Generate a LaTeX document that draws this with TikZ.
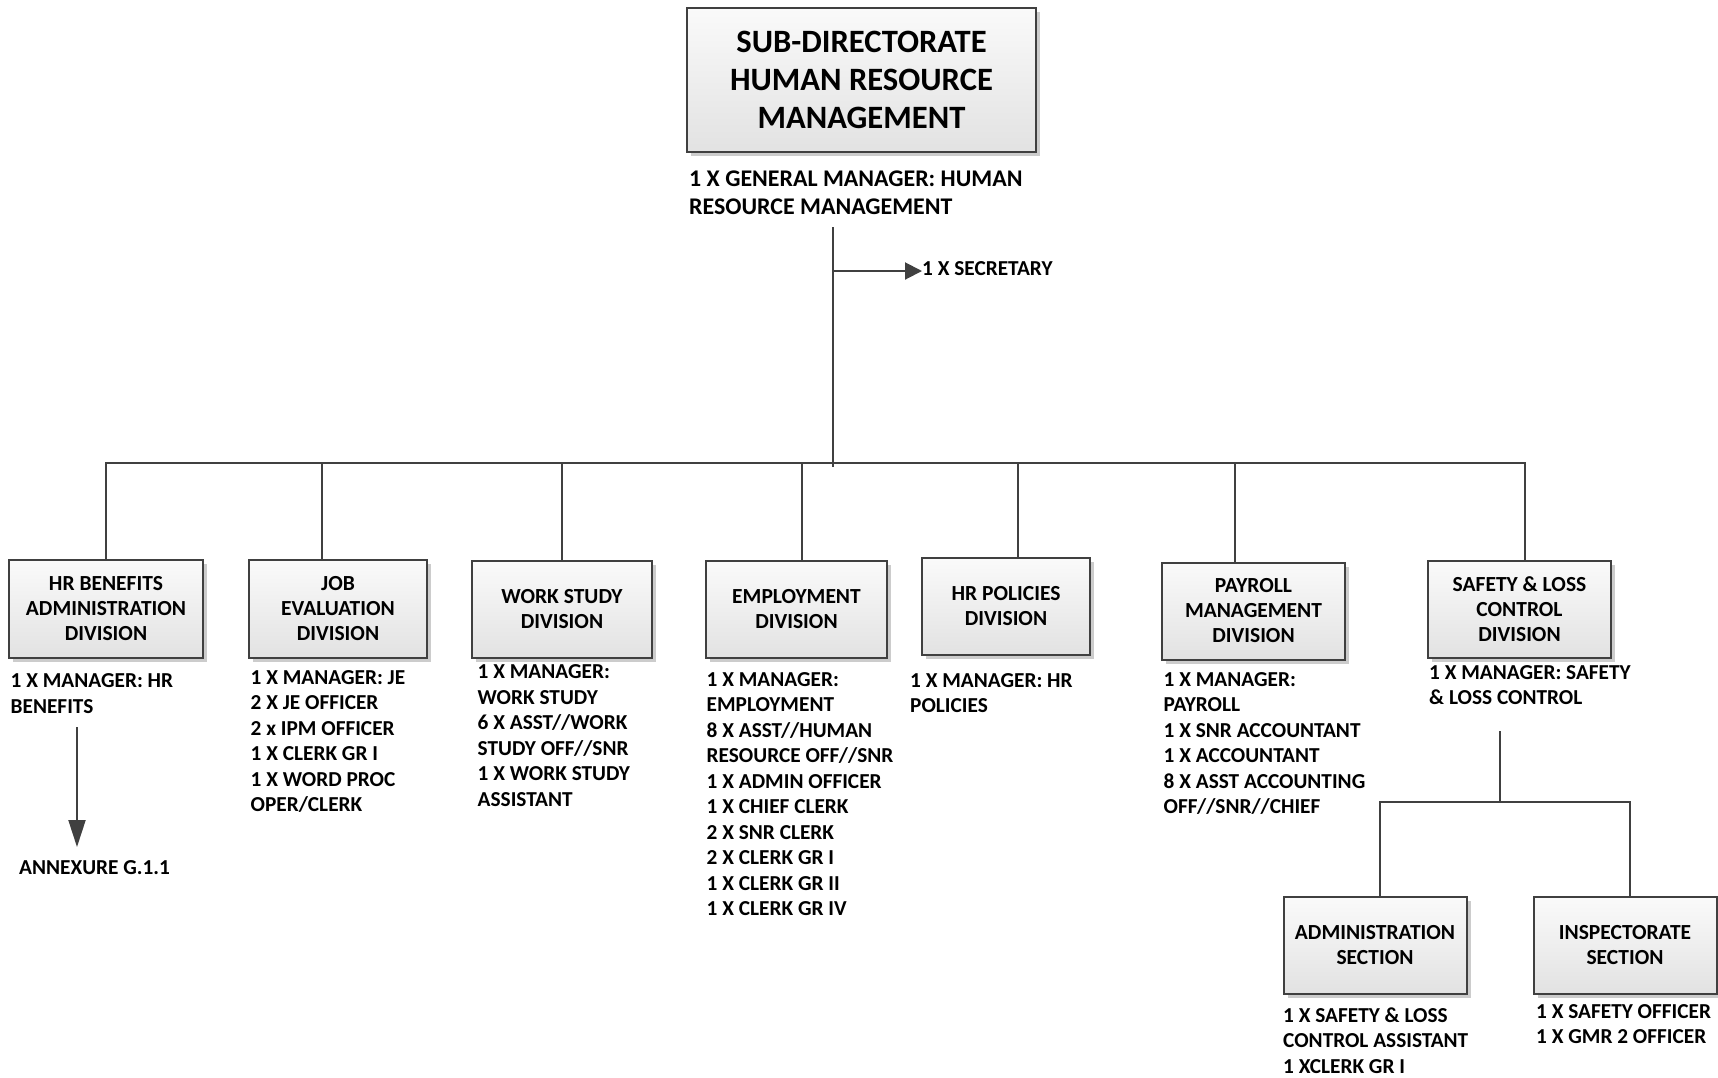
\documentclass[tikz,border=0pt]{standalone}
\usepackage{fontspec}
\setmainfont{Carlito}
\usetikzlibrary{shadows,arrows.meta}
\definecolor{linec}{HTML}{404040}
\definecolor{boxtop}{HTML}{FAFAFA}
\definecolor{boxbot}{HTML}{E2E2E2}
\begin{document}
\begin{tikzpicture}[x=1pt,y=-1pt,
  box/.style={draw=linec, line width=2pt, top color=boxtop, bottom color=boxbot,
    drop shadow={shadow xshift=4pt, shadow yshift=-4pt, fill=black!20, opacity=1},
    align=center, inner sep=0pt, font=\fontsize{21.5}{25}\selectfont\bfseries},
  staff/.style={anchor=north west, align=left, inner sep=0pt,
    font=\fontsize{21.3}{25.5}\selectfont\bfseries, execute at begin node=\strut},
  lbl/.style={anchor=base west, inner sep=0pt, font=\fontsize{21.3}{25.5}\selectfont\bfseries},
  conn/.style={draw=linec, line width=2pt},
]
\useasboundingbox (0,0) rectangle (1718,1077);

% top box
\node[box, minimum width=349pt, minimum height=144pt, line width=2.5pt,
  font=\fontsize{32.6}{37.8}\selectfont\bfseries] (top) at (861.5,80)
  {SUB-DIRECTORATE\\HUMAN RESOURCE\\MANAGEMENT};
\node[staff, font=\fontsize{23.9}{28}\selectfont\bfseries] (gmS) at (689,170.3)
  {1 X GENERAL MANAGER: HUMAN\\RESOURCE MANAGEMENT};

% divisions
\node[box, minimum width=194pt, minimum height=98pt] (hrb) at (106,609) {HR BENEFITS\\ADMINISTRATION\\DIVISION};
\node[box, minimum width=178pt, minimum height=98pt] (job) at (338,609) {JOB\\EVALUATION\\DIVISION};
\node[box, minimum width=180pt, minimum height=97pt] (ws) at (562,609.5) {WORK STUDY\\DIVISION};
\node[box, minimum width=181pt, minimum height=97pt] (emp) at (796.5,609.5) {EMPLOYMENT\\DIVISION};
\node[box, minimum width=168pt, minimum height=97pt] (hrp) at (1006,606.5) {HR POLICIES\\DIVISION};
\node[box, minimum width=183pt, minimum height=97pt] (pay) at (1253.5,611) {PAYROLL\\MANAGEMENT\\DIVISION};
\node[box, minimum width=183pt, minimum height=97pt] (saf) at (1519.5,609.5) {SAFETY \& LOSS\\CONTROL\\DIVISION};
\node[box, minimum width=183pt, minimum height=97pt] (adm) at (1375,945.5) {ADMINISTRATION\\SECTION};
\node[box, minimum width=183pt, minimum height=97pt] (ins) at (1625,945.5) {INSPECTORATE\\SECTION};

% staff lists
\node[staff] (hrbS) at (10.5,673.5) {1 X MANAGER: HR\\BENEFITS};
\node[staff] (jobS) at (250.5,670.3) {1 X MANAGER: JE\\2 X JE OFFICER\\2 x IPM OFFICER\\1 X CLERK GR I\\1 X WORD PROC\\OPER/CLERK};
\node[staff] (wsS) at (477.5,664.5) {1 X MANAGER:\\WORK STUDY\\6 X ASST//WORK\\STUDY OFF//SNR\\1 X WORK STUDY\\ASSISTANT};
\node[staff] (empS) at (706.5,672.3) {1 X MANAGER:\\EMPLOYMENT\\8 X ASST//HUMAN\\RESOURCE OFF//SNR\\1 X ADMIN OFFICER\\1 X CHIEF CLERK\\2 X SNR CLERK\\2 X CLERK GR I\\1 X CLERK GR II\\1 X CLERK GR IV};
\node[staff] (hrpS) at (910,673.3) {1 X MANAGER: HR\\POLICIES};
\node[staff] (payS) at (1163.5,672) {1 X MANAGER:\\PAYROLL\\1 X SNR ACCOUNTANT\\1 X ACCOUNTANT\\8 X ASST ACCOUNTING\\OFF//SNR//CHIEF};
\node[staff] (safS) at (1429,665.3) {1 X MANAGER: SAFETY\\\& LOSS CONTROL};
\node[staff] (admS) at (1283,1007.3) {1 X SAFETY \& LOSS\\CONTROL ASSISTANT\\1 XCLERK GR I};
\node[staff] (insS) at (1536,1004.3) {1 X SAFETY OFFICER\\1 X GMR 2 OFFICER};

% secretary
\node[lbl] (sec) at (922,275.7) {1 X SECRETARY};
\node[lbl] (annex) at (19,874.7) {ANNEXURE G.1.1};

% main trunk
\coordinate (gmTop) at (833,227);
\coordinate (busJ) at (833,467);
\coordinate (secJ) at (833,271);
\draw[conn] (gmTop) -- (busJ);
\draw[conn, -{Triangle[length=17pt,width=17pt]}] (secJ) -- (secJ -| sec.west);

% bus
\coordinate (bL) at (106,463);
\coordinate (bR) at (1524.5,463);
\draw[conn] (hrb.north) |- (bR) -- (bR |- saf.north);
\coordinate (tJob) at (322,463);
\coordinate (tWs) at (562,463);
\coordinate (tEmp) at (802,463);
\coordinate (tHrp) at (1018,463);
\coordinate (tPay) at (1235,463);
\draw[conn] (tJob) -- (tJob |- job.north);
\draw[conn] (tWs) -- (tWs |- ws.north);
\draw[conn] (tEmp) -- (tEmp |- emp.north);
\draw[conn] (tHrp) -- (tHrp |- hrp.north);
\draw[conn] (tPay) -- (tPay |- pay.north);

% annexure arrow
\coordinate (aStart) at (77,727);
\coordinate (aEnd) at (77,847);
\draw[conn, -{Triangle[length=27pt,width=17pt]}] (aStart) -- (aEnd);

% safety sub-tree
\coordinate (sJ) at (1500,731);
\coordinate (sbL) at (1380,802);
\coordinate (sbR) at (1630,802);
\draw[conn] (sJ) -- (sJ |- sbL);
\draw[conn] (sbL |- adm.north) -- (sbL) -- (sbR) -- (sbR |- ins.north);
\end{tikzpicture}
\end{document}
